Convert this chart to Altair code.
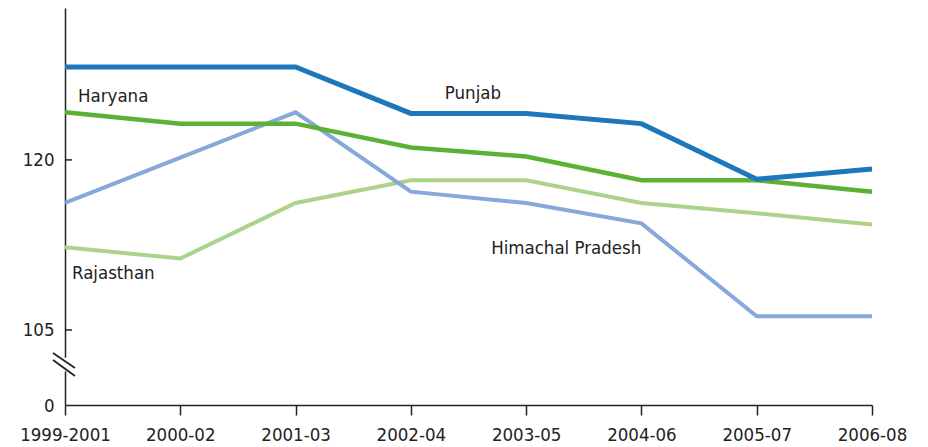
import altair as alt
import pandas as pd

categories = ["1999-2001", "2000-02", "2001-03", "2002-04", "2003-05", "2004-06", "2005-07", "2006-08"]
punjab = [128.2, 128.2, 128.2, 124.1, 124.1, 123.2, 118.3, 119.2]
haryana = [124.2, 123.2, 123.2, 121.1, 120.3, 118.2, 118.2, 117.2]
himachal = [116.2, 120.2, 124.2, 117.2, 116.2, 114.4, 106.2, 106.2]
rajasthan = [112.3, 111.3, 116.2, 118.2, 118.2, 116.2, 115.3, 114.3]

states = ["Rajasthan", "Himachal Pradesh", "Haryana", "Punjab"]
series = [rajasthan, himachal, haryana, punjab]
colors = ["#abd38c", "#86a8da", "#5cb135", "#1d78bb"]
widths = [4, 4, 4.5, 5]

# label annotations
label_names = ["Haryana", "Punjab", "Himachal Pradesh", "Rajasthan"]
label_cats = ["1999-2001", "2002-04", "2003-05", "1999-2001"]
label_vals = [125.6, 125.9, 112.25, 110.0]
label_dx = [13, 34, -35, 7]

# broken axis: bottom of axis shows "0"
y_min, y_max = 98.38, 133.4
y_tick_vals = [y_min, 105, 120]
break_y = [102.97, 102.35]
break_y2 = [101.65, 100.94]

FONT = "DejaVu Sans Condensed"
FS = 18.5

x_scale = alt.Scale(type="point", padding=0, domain=categories)
y_scale = alt.Scale(domain=[y_min, y_max], nice=False, zero=False)

x_axis = alt.Axis(title=None, labelAngle=0, grid=False, tickSize=10,
                  labelFont=FONT, labelFontSize=FS, labelColor="#222",
                  labelPadding=10, domainColor="#222", tickColor="#222",
                  domainWidth=1.5, tickWidth=1.5)
y_axis = alt.Axis(title=None, values=y_tick_vals, grid=False, ticks=False,
                  labelExpr="datum.value < 100 ? '0' : datum.label",
                  labelFont=FONT, labelFontSize=FS, labelColor="#222",
                  labelPadding=11, domainColor="#222", domainWidth=1.5)

layers = []
for i, (st, vals) in enumerate(zip(states, series)):
    df = pd.DataFrame({"period": categories, "value": vals, "state": st})
    layers.append(
        alt.Chart(df).mark_line(color=colors[i], strokeWidth=widths[i], strokeJoin="miter")
        .encode(x=alt.X("period:O", scale=x_scale, sort=categories, axis=x_axis),
                y=alt.Y("value:Q", scale=y_scale, axis=y_axis))
    )

# inward y ticks
tick_df = pd.DataFrame({"value": [105, 120]})
ticks = alt.Chart(tick_df).mark_rule(color="#222", strokeWidth=1.5).encode(
    y=alt.Y("value:Q", scale=y_scale, axis=y_axis), x=alt.value(0), x2=alt.value(7)
)

# axis break
gap_df = pd.DataFrame({"value": [102.55], "b": [101.35]})
gap = alt.Chart(gap_df).mark_rule(color="white", strokeWidth=4).encode(
    y=alt.Y("value:Q", scale=y_scale, axis=y_axis), y2="b:Q", x=alt.value(0)
)
brk_df = pd.DataFrame({"value": break_y, "y2": break_y2})
brk = alt.Chart(brk_df).mark_rule(color="#222", strokeWidth=1.8).encode(
    y=alt.Y("value:Q", scale=y_scale, axis=y_axis), y2="y2:Q", x=alt.value(-12), x2=alt.value(10)
)

labels = []
for n, c, v, d in zip(label_names, label_cats, label_vals, label_dx):
    labels.append(
        alt.Chart(pd.DataFrame({"name": [n], "period": [c], "value": [v]}))
        .mark_text(align="left", baseline="middle", font=FONT, fontSize=FS, color="#222", dx=d)
        .encode(x=alt.X("period:O", scale=x_scale, sort=categories, axis=x_axis),
                y=alt.Y("value:Q", scale=y_scale, axis=y_axis), text="name:N")
    )

chart = alt.layer(*layers, ticks, gap, brk, *labels).properties(
    width=807, height=397,
    autosize=alt.AutoSizeParams(type="none"),
    padding={"left": 57, "top": 0, "right": 48, "bottom": 39},
    background="white",
).configure_view(stroke=None)

chart.save("out.html", embed_options={"renderer": "svg", "actions": False})
